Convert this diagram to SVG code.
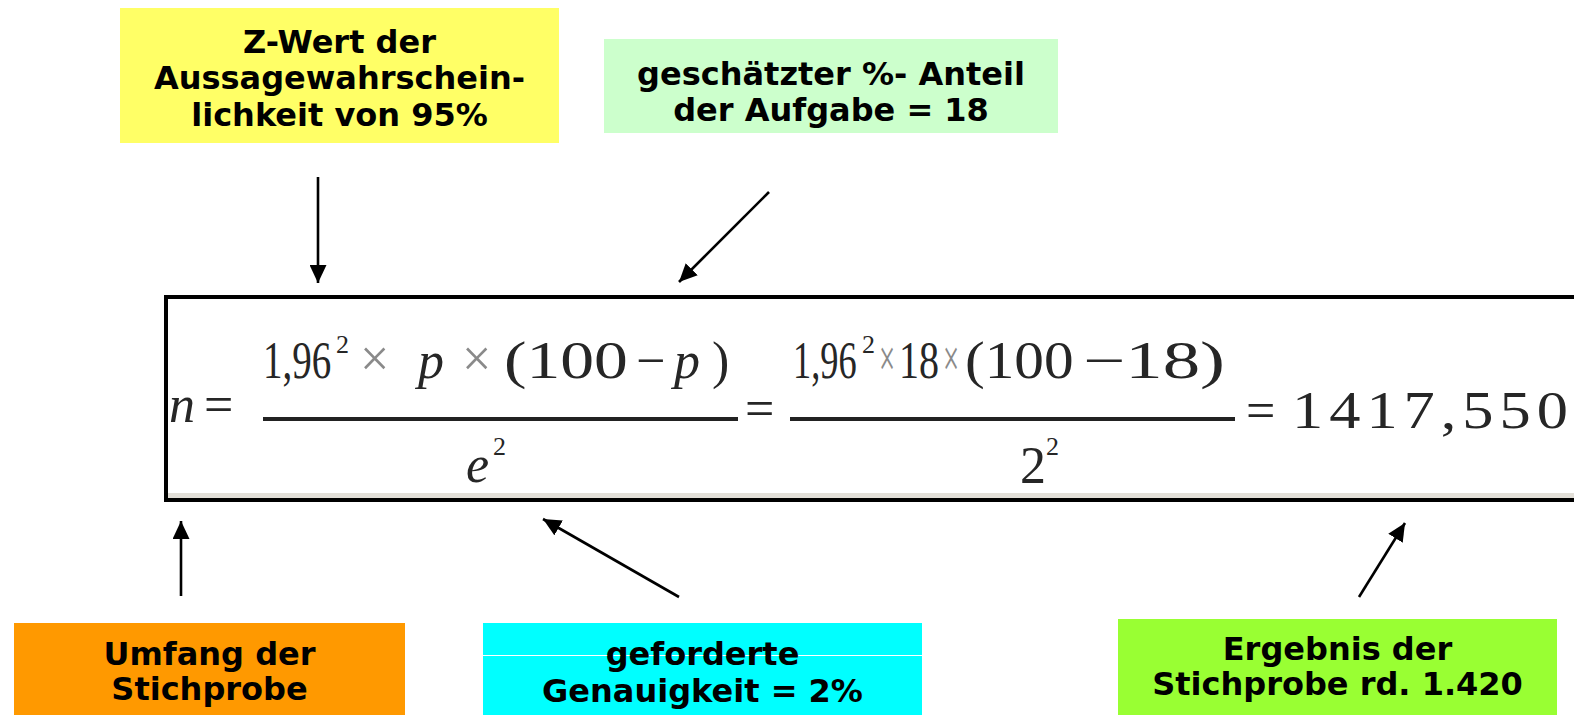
<svg xmlns="http://www.w3.org/2000/svg" width="1574" height="715" viewBox="0 0 1574 715">
<defs>
<style>
.lbl{font-family:"DejaVu Sans","Verdana",sans-serif;font-weight:bold;font-size:32px;fill:#000;text-anchor:middle}
.f{font-family:"Liberation Serif","Times New Roman",serif;font-size:52px;fill:#262626}
.s{font-size:26px}
.it{font-style:italic}
.x{fill:#8a8a8a}
.conn line{stroke:#000;stroke-width:2.6;fill:none}
</style>
<marker id="ah" markerUnits="userSpaceOnUse" markerWidth="19" markerHeight="17" refX="18" refY="8.5" orient="auto">
<path d="M0,0 L18,8.5 L0,17 z" fill="#000"/>
</marker>
</defs>
<rect width="1574" height="715" fill="#fff"/>

<g id="formula">
<rect x="166" y="297" width="1420" height="203" fill="#fff" stroke="#000" stroke-width="4"/>
<rect x="168" y="493" width="1410" height="5" fill="#e2dfd8"/>
<text class="f it" x="169" y="422">n</text>
<text class="f" x="204" y="422">=</text>
<text class="f" transform="translate(263,378) scale(0.75,1)">1,96</text>
<text class="f s" x="336" y="353">2</text>
<text class="f x" x="360" y="376">×</text>
<text class="f it" x="418" y="378">p</text>
<text class="f x" x="462" y="376">×</text>
<text class="f" transform="translate(504,378) scale(1.3,1)">(100</text>
<text class="f" x="636" y="378">−</text>
<text class="f it" x="674" y="378">p</text>
<text class="f" x="712" y="378">)</text>
<rect x="263" y="417" width="475" height="4" fill="#222"/>
<text class="f it" x="466" y="482">e</text>
<text class="f s" x="493" y="455">2</text>
<text class="f" x="745" y="426">=</text>
<text class="f" transform="translate(793,378) scale(0.7,1)">1,96</text>
<text class="f s" x="862" y="353">2</text>
<text class="f x" transform="translate(879,376) scale(0.55,1)">×</text>
<text class="f" transform="translate(899,378) scale(0.77,1)">18</text>
<text class="f x" transform="translate(943,376) scale(0.55,1)">×</text>
<text class="f" transform="translate(965,378) scale(1.14,1)">(100</text>
<text class="f" transform="translate(1083,378) scale(1.44,1)">−18)</text>
<rect x="790" y="417" width="445" height="4" fill="#222"/>
<text class="f" x="1020" y="483">2</text>
<text class="f s" x="1046" y="455">2</text>
<text class="f" x="1246" y="428">=</text>
<text class="f" transform="translate(1292,428) scale(1.2,1)" letter-spacing="5">1417,550</text>
</g>

<g id="z-wert">
<rect x="120" y="8" width="439" height="135" fill="#ffff66"/>
<text class="lbl" x="339.5" y="53">Z-Wert der</text>
<text class="lbl" x="339.5" y="89">Aussagewahrschein-</text>
<text class="lbl" x="339.5" y="126">lichkeit von 95%</text>
</g>

<g id="anteil">
<rect x="604" y="39" width="454" height="94" fill="#ccffcc"/>
<text class="lbl" x="831" y="85">geschätzter %- Anteil</text>
<text class="lbl" x="831" y="121">der Aufgabe = 18</text>
</g>

<g id="umfang">
<rect x="14" y="623" width="391" height="92" fill="#ff9900"/>
<text class="lbl" x="209.5" y="665">Umfang der</text>
<text class="lbl" x="209.5" y="700">Stichprobe</text>
</g>

<g id="genauigkeit">
<rect x="483" y="623" width="439" height="92" fill="#00ffff"/>
<line x1="483" y1="655.5" x2="922" y2="655.5" stroke="#fff" stroke-width="1"/>
<text class="lbl" x="702.5" y="665">geforderte</text>
<text class="lbl" x="702.5" y="702">Genauigkeit = 2%</text>
</g>

<g id="ergebnis">
<rect x="1118" y="619" width="439" height="96" fill="#99ff33"/>
<text class="lbl" x="1337.5" y="660">Ergebnis der</text>
<text class="lbl" x="1337.5" y="695">Stichprobe rd. 1.420</text>
</g>

<g id="connectors" class="conn">
<line x1="318" y1="177" x2="318" y2="283" marker-end="url(#ah)"/>
<line x1="769" y1="192" x2="679" y2="282" marker-end="url(#ah)"/>
<line x1="181" y1="596" x2="181" y2="521" marker-end="url(#ah)"/>
<line x1="679" y1="597" x2="543" y2="519" marker-end="url(#ah)"/>
<line x1="1359" y1="597" x2="1405" y2="523" marker-end="url(#ah)"/>
</g>
</svg>
